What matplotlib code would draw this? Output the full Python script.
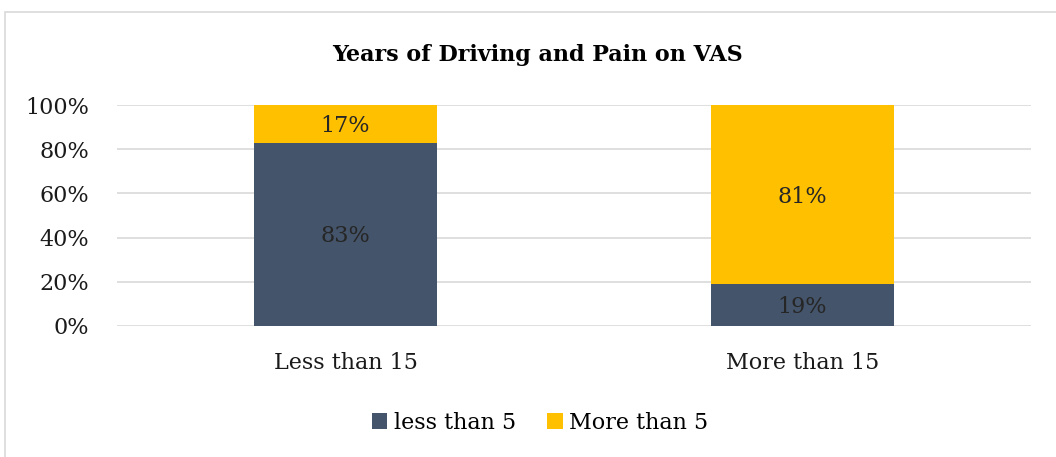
import matplotlib

matplotlib.use("Agg")
import matplotlib.pyplot as plt
from matplotlib.patches import Rectangle

categories = ["Less than 15", "More than 15"]
series_names = ["less than 5", "More than 5"]
less_than_5 = [83, 19]
more_than_5 = [17, 81]
y_ticks = [0, 20, 40, 60, 80, 100]

DARK = "#44546a"
GOLD = "#ffc000"
GRID = "#d9d9d9"
FS = 16

plt.rcParams["font.family"] = ["DejaVu Serif"]

W, H = 1056, 457
fig = plt.figure(figsize=(W / 100, H / 100), dpi=100)
fig.patches.append(Rectangle((5 / W, -0.1), 1.2, (H - 12) / H + 0.1,
                             transform=fig.transFigure, fill=False,
                             edgecolor=GRID, lw=1.2))

ax = fig.add_axes([117 / W, 1 - 326 / H, (1031 - 117) / W, (326 - 105) / H])
x = range(len(categories))
b1 = ax.bar(x, less_than_5, width=0.4, color=DARK, label=series_names[0], zorder=3)
b2 = ax.bar(x, more_than_5, width=0.4, bottom=less_than_5, color=GOLD,
            label=series_names[1], zorder=3)

for bars, vals, bottoms in [(b1, less_than_5, [0, 0]), (b2, more_than_5, less_than_5)]:
    for bar, v, b in zip(bars, vals, bottoms):
        ax.text(bar.get_x() + bar.get_width() / 2, b + v / 2 - 1, f"{v}%",
                ha="center", va="center", fontsize=FS, color="#262626", zorder=4)

ax.set_xlim(-0.5, 1.5)
ax.set_ylim(0, 100)
ax.set_yticks(y_ticks)
ax.set_yticklabels([f"{t}%" for t in y_ticks])
ax.set_xticks(list(x))
ax.set_xticklabels(categories)
ax.yaxis.grid(True, color=GRID, lw=1.2, zorder=0)
ax.set_axisbelow(True)
for s in ax.spines.values():
    s.set_visible(False)
ax.tick_params(axis="both", length=0, labelsize=FS, colors="#1a1a1a")
ax.tick_params(axis="y", pad=20)
ax.tick_params(axis="x", pad=19)

fig.text(537 / W, 1 - 55 / H, "Years of Driving and Pain on VAS", ha="center",
         va="center", fontsize=FS, fontweight="bold", color="#000000")

fig.legend(handles=[b1, b2], labels=series_names, loc="center",
           bbox_to_anchor=(540 / W, 1 - 423 / H), ncol=2, frameon=False,
           fontsize=FS, handlelength=0.7, handleheight=0.7, handletextpad=0.3,
           columnspacing=1.4)

fig.savefig("out.png", dpi=100, facecolor="white")
